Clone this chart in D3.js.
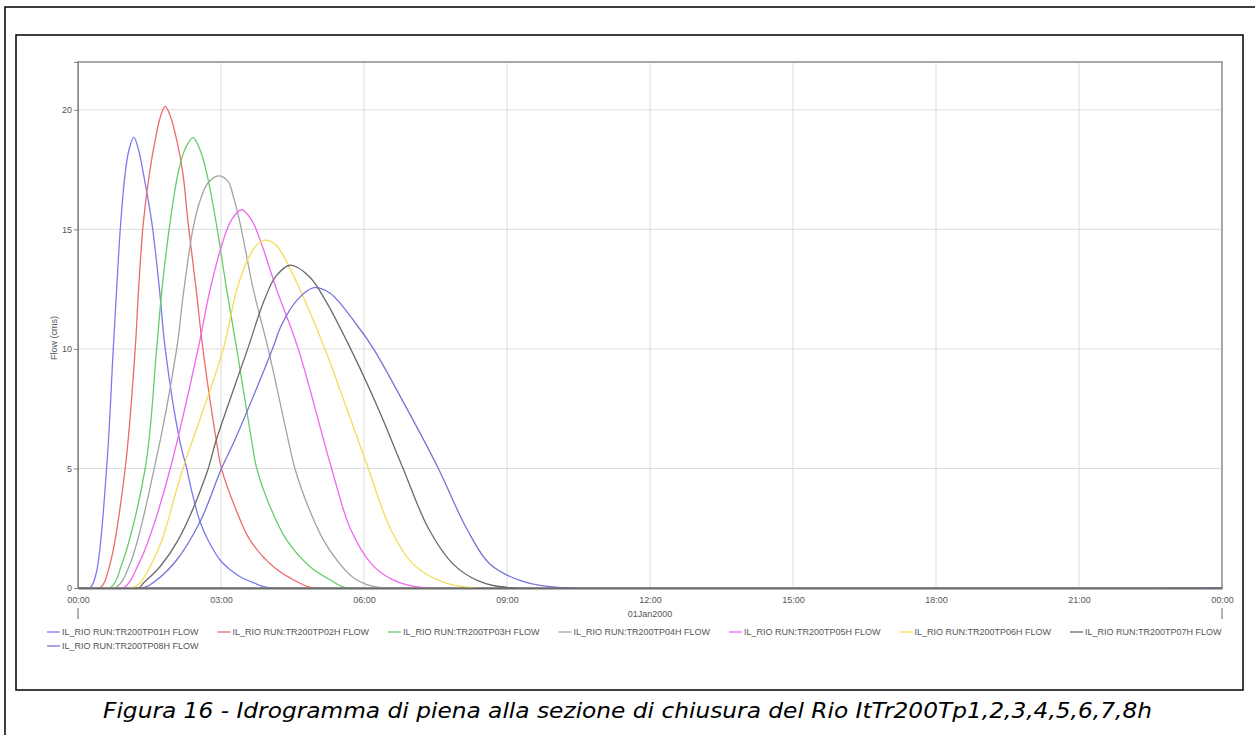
<!DOCTYPE html>
<html>
<head>
<meta charset="utf-8">
<script src="https://cdn.jsdelivr.net/npm/d3@7"></script>
<style>
  body { margin: 0; background: #fff; }
  .tick text { font-family: "Liberation Sans", Arial, sans-serif; font-size: 9px; fill: #555; }
</style>
</head>
<body>
<div id="chart"></div>
<script>

// series names (legend order)
var seriesNames = ["IL_RIO RUN:TR200TP01H FLOW", "IL_RIO RUN:TR200TP02H FLOW", "IL_RIO RUN:TR200TP03H FLOW",
    "IL_RIO RUN:TR200TP04H FLOW", "IL_RIO RUN:TR200TP05H FLOW", "IL_RIO RUN:TR200TP06H FLOW",
    "IL_RIO RUN:TR200TP07H FLOW", "IL_RIO RUN:TR200TP08H FLOW"];
var seriesColors = ["#7a7af0", "#ef6a6a", "#66cc66", "#a3a3a3", "#ef66ef", "#f4dc5a", "#6a6a6a", "#7474d8"];

// hours after 01Jan2000 00:00 and flow (cms)
var tp01Hours = [0, 0.25, 0.38, 0.60, 0.74, 0.81, 0.89, 0.99, 1.07, 1.17, 1.27, 1.37, 1.55, 1.71, 1.83, 2.13, 2.28, 2.38, 2.56, 2.73, 2.98, 3.20, 3.40, 3.70, 4.03, 24];
var tp01Flow  = [0, 0, 0.6, 5, 10, 12.47, 15.1, 17.35, 18.33, 18.86, 18.33, 17.35, 15.26, 12.47, 10, 6.2, 5, 4.1, 2.77, 2.0, 1.17, 0.75, 0.47, 0.2, 0, 0];
var tp02Hours = [0, 0.46, 0.67, 0.99, 1.20, 1.27, 1.37, 1.50, 1.62, 1.73, 1.83, 1.94, 2.07, 2.20, 2.31, 2.48, 2.62, 2.90, 3.01, 3.29, 3.61, 4.10, 4.66, 4.93, 24];
var tp02Flow  = [0, 0, 1, 5, 10, 12.47, 15.26, 17.35, 18.74, 19.72, 20.14, 19.72, 18.74, 17.35, 15.26, 12.47, 10, 6.19, 5, 3.4, 2.0, 0.89, 0.2, 0, 0];
var tp03Hours = [0, 0.67, 0.92, 1.41, 1.65, 1.76, 1.93, 2.10, 2.24, 2.41, 2.56, 2.70, 2.90, 3.12, 3.33, 3.64, 3.75, 4.03, 4.38, 4.87, 5.35, 5.65, 24];
var tp03Flow  = [0, 0, 1, 5, 10, 12.47, 15.26, 17.35, 18.33, 18.84, 18.33, 17.35, 15.26, 12.47, 10, 6.19, 5, 3.4, 2.0, 0.89, 0.27, 0, 0];
var tp04Hours = [0, 0.78, 1.09, 1.60, 2.07, 2.21, 2.41, 2.56, 2.73, 2.95, 3.15, 3.26, 3.40, 3.68, 3.99, 4.41, 4.55, 4.83, 5.15, 5.43, 5.80, 6.40, 24];
var tp04Flow  = [0, 0, 1, 5, 10, 12.3, 15.0, 16.2, 16.95, 17.24, 17.0, 16.37, 15.26, 12.47, 10, 6.19, 5, 3.4, 2.0, 1.17, 0.4, 0, 0];
var tp05Hours = [0, 0.95, 1.27, 1.48, 1.91, 2.52, 2.77, 3.05, 3.22, 3.43, 3.64, 3.82, 4.17, 4.62, 5.32, 5.71, 6.16, 6.60, 7.30, 24];
var tp05Flow  = [0, 0, 1, 2.0, 4.8, 10, 12.47, 14.56, 15.4, 15.82, 15.4, 14.56, 12.47, 10, 5, 2.5, 1, 0.35, 0, 0];
var tp06Hours = [0, 1.13, 1.30, 1.51, 1.76, 2.17, 3.05, 3.33, 3.59, 3.75, 3.94, 4.15, 4.32, 4.66, 5.18, 5.64, 6.09, 6.55, 7.03, 7.60, 8.30, 24];
var tp06Flow  = [0, 0, 0.2, 0.89, 2.0, 4.8, 10, 12.47, 13.86, 14.35, 14.55, 14.35, 13.86, 12.47, 10, 7.5, 5, 2.5, 1, 0.3, 0, 0];
var tp07Hours = [0, 1.27, 1.37, 1.72, 2.10, 2.70, 2.90, 3.56, 3.90, 4.15, 4.45, 4.85, 5.20, 5.72, 6.30, 6.82, 7.35, 7.87, 8.40, 9.10, 24];
var tp07Flow  = [0, 0, 0.2, 0.89, 2.0, 4.8, 6.19, 10, 12, 13.03, 13.5, 13.03, 12, 10, 7.5, 5, 2.5, 1, 0.3, 0, 0];
var tp08Hours = [0, 1.37, 1.65, 2.07, 2.56, 3.01, 3.29, 4.08, 4.27, 4.60, 4.95, 5.29, 5.85, 6.20, 6.90, 7.56, 8.15, 8.64, 9.30, 10.25, 24];
var tp08Flow  = [0, 0, 0.33, 1.17, 2.77, 5, 6.19, 10, 11, 12.05, 12.56, 12.33, 11, 10, 7.5, 5, 2.5, 1, 0.3, 0, 0];

var yTicks = [0, 5, 10, 15, 20];
var dateLabel = "01Jan2000";
var yLabel = "Flow (cms)";
var caption = "Figura 16 - Idrogramma di piena alla sezione di chiusura del Rio ItTr200Tp1,2,3,4,5,6,7,8h";

var hoursList = [tp01Hours, tp02Hours, tp03Hours, tp04Hours, tp05Hours, tp06Hours, tp07Hours, tp08Hours];
var flowList = [tp01Flow, tp02Flow, tp03Flow, tp04Flow, tp05Flow, tp06Flow, tp07Flow, tp08Flow];

var start = Date.UTC(2000, 0, 1);
var series = seriesNames.map(function(name, i) {
    return {
        name: name,
        color: seriesColors[i],
        values: hoursList[i].map(function(h, j) {
            return { date: new Date(start + h * 3600000), flow: flowList[i][j] };
        })
    };
});

var W = 1255, H = 735;
var margin = { top: 62, right: 33, bottom: 147, left: 78 };
var width = W - margin.left - margin.right,
    height = H - margin.top - margin.bottom;

var root = d3.select("#chart").append("svg")
    .attr("width", W)
    .attr("height", H);

// page frames
root.append("rect")
    .attr("x", 5).attr("y", 7)
    .attr("width", W).attr("height", H)
    .attr("fill", "none").attr("stroke", "#000").attr("stroke-width", 1.5);
root.append("rect")
    .attr("x", 16).attr("y", 35)
    .attr("width", 1227).attr("height", 655)
    .attr("fill", "#fff").attr("stroke", "#000").attr("stroke-width", 1.5);

var svg = root.append("g")
    .attr("transform", "translate(" + margin.left + "," + margin.top + ")");

svg.append("defs").append("clipPath")
    .attr("id", "clip")
    .append("rect")
    .attr("width", width)
    .attr("height", height + 1);

// scales
var x = d3.scaleUtc()
    .domain([new Date(start), new Date(start + 24 * 3600000)])
    .range([0, width]);
var y = d3.scaleLinear()
    .domain([0, 22])
    .range([height, 0]);

var xTickValues = d3.utcHour.every(3).range(new Date(start), new Date(start + 24 * 3600000 + 1));

// grid
svg.append("g").selectAll("line.vg")
    .data(xTickValues)
    .enter().append("line")
    .attr("x1", function(d) { return x(d); })
    .attr("x2", function(d) { return x(d); })
    .attr("y1", 0).attr("y2", height)
    .attr("stroke", "#dcdcdc").attr("stroke-width", 1);
svg.append("g").selectAll("line.hg")
    .data(yTicks)
    .enter().append("line")
    .attr("x1", 0).attr("x2", width)
    .attr("y1", function(d) { return y(d); })
    .attr("y2", function(d) { return y(d); })
    .attr("stroke", "#dcdcdc").attr("stroke-width", 1);

// plot frame
svg.append("rect")
    .attr("width", width).attr("height", height)
    .attr("fill", "none").attr("stroke", "#a8a8a8").attr("stroke-width", 2);

// lines
var line = d3.line()
    .x(function(d) { return x(d.date); })
    .y(function(d) { return y(d.flow); })
    .curve(d3.curveCatmullRom.alpha(0.5));

svg.append("g")
    .attr("clip-path", "url(#clip)")
    .selectAll(".flow")
    .data(series)
    .enter().append("path")
    .attr("class", "flow")
    .attr("fill", "none")
    .attr("stroke", function(d) { return d.color; })
    .attr("stroke-width", 1.3)
    .attr("d", function(d) { return line(d.values); });

// axes
var yAxis = d3.axisLeft(y).tickValues(yTicks).tickSize(4).tickPadding(2);
var gy = svg.append("g").call(yAxis);
gy.select(".domain").attr("stroke", "#888");
gy.selectAll(".tick line").attr("stroke", "#888");

var xAxis = d3.axisBottom(x)
    .tickValues(xTickValues)
    .tickFormat(d3.utcFormat("%H:%M"))
    .tickSize(0).tickPadding(9);
var gx = svg.append("g")
    .attr("transform", "translate(0," + height + ")")
    .call(xAxis);
gx.select(".domain").attr("stroke", "#6a6a6a").attr("stroke-width", 2);

// day boundary markers
svg.append("g").selectAll("line.day")
    .data([x.domain()[0], x.domain()[1]])
    .enter().append("line")
    .attr("x1", function(d) { return x(d); })
    .attr("x2", function(d) { return x(d); })
    .attr("y1", height + 20).attr("y2", height + 31)
    .attr("stroke", "#666").attr("stroke-width", 1);

svg.append("text")
    .attr("x", x(new Date(start + 12 * 3600000)))
    .attr("y", height + 29)
    .attr("text-anchor", "middle")
    .style("font-family", "Liberation Sans, Arial, sans-serif")
    .style("font-size", "9px")
    .style("fill", "#555")
    .text(dateLabel);

svg.append("text")
    .attr("transform", "translate(-21," + (height / 2 + 13) + ") rotate(-90)")
    .attr("text-anchor", "middle")
    .style("font-family", "Liberation Sans, Arial, sans-serif")
    .style("font-size", "9px")
    .style("fill", "#555")
    .text(yLabel);

// legend
var legend = root.append("g").selectAll(".legend")
    .data(series)
    .enter().append("g")
    .attr("class", "legend")
    .attr("transform", function(d, i) {
        var col = i % 7, row = Math.floor(i / 7);
        return "translate(" + (47 + col * 170.5) + "," + (632 + row * 14) + ")";
    });
legend.append("line")
    .attr("x1", 0).attr("x2", 13)
    .attr("stroke", function(d) { return d.color; })
    .attr("stroke-width", 1.3);
legend.append("text")
    .attr("x", 15).attr("y", 3)
    .style("font-family", "Liberation Sans, Arial, sans-serif")
    .style("font-size", "9px")
    .style("fill", "#555")
    .text(function(d) { return d.name; });

// caption
root.append("text")
    .attr("x", 627.5).attr("y", 718)
    .attr("text-anchor", "middle")
    .attr("textLength", 1049)
    .attr("lengthAdjust", "spacingAndGlyphs")
    .style("font-family", "DejaVu Sans, Verdana, sans-serif")
    .style("font-style", "italic")
    .style("font-size", "21px")
    .style("fill", "#000")
    .text(caption);

</script>
</body>
</html>
